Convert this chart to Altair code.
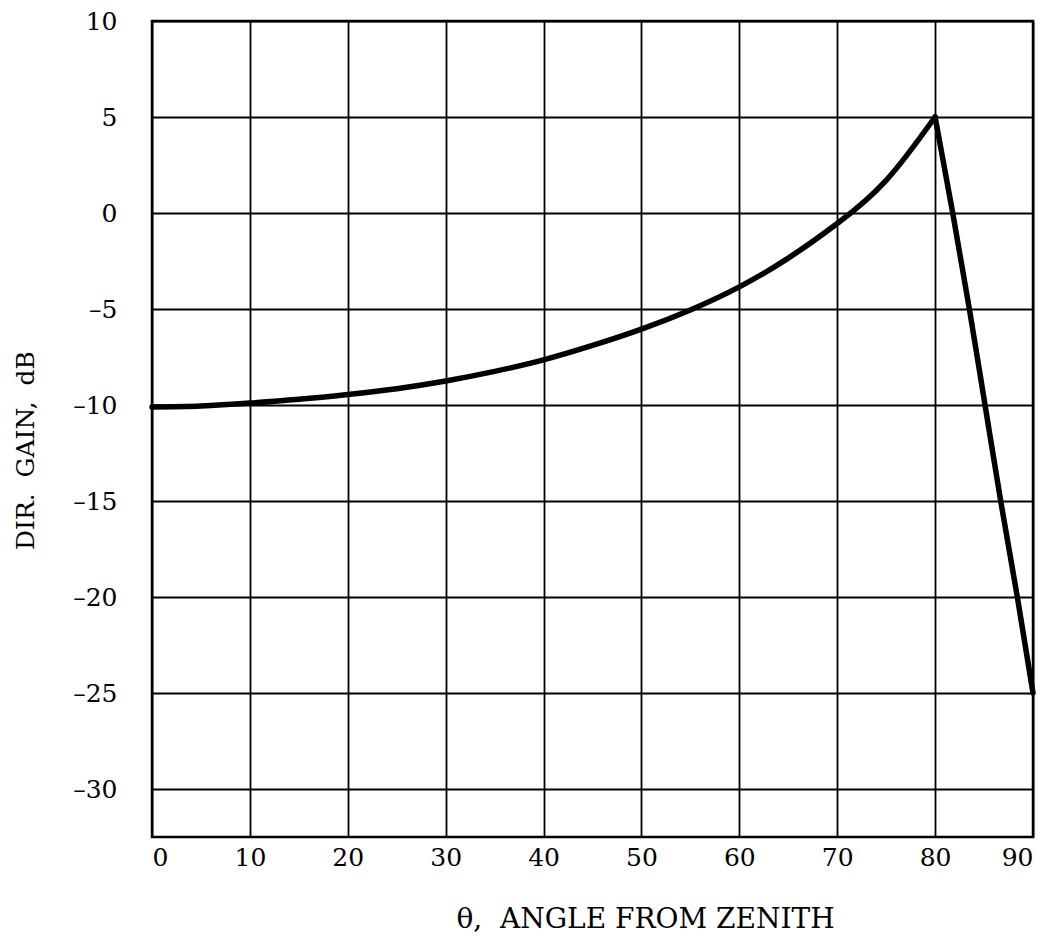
import altair as alt
import pandas as pd

# Rising part of the directive gain curve
curve_theta = [0, 5, 10, 15, 20, 25, 30, 35, 40, 45, 50, 55, 60, 65, 70, 75, 80]
curve_gain = [-10.1, -10.05, -9.9, -9.7, -9.45, -9.15, -8.75, -8.25, -7.65, -6.9,
              -6.05, -5.05, -3.85, -2.35, -0.55, 1.7, 5.0]

# Falling part after the peak
drop_theta = [80, 81.8, 83.5, 85.1, 86.7, 88.4, 90]
drop_gain = [5.0, 0.0, -5.0, -10.0, -15.0, -20.0, -25.0]

x_ticks = [0, 10, 20, 30, 40, 50, 60, 70, 80, 90]
y_ticks = [10, 5, 0, -5, -10, -15, -20, -25, -30]

curve_df = pd.DataFrame({"theta": curve_theta, "gain": curve_gain})
drop_df = pd.DataFrame({"theta": drop_theta, "gain": drop_gain})

FONT = "DejaVu Serif"
NB = "\u00a0"

x_enc = alt.X(
    "theta:Q",
    scale=alt.Scale(domain=[0, 90], nice=False, zero=False),
    axis=alt.Axis(
        values=x_ticks,
        title="θ," + NB + NB + "ANGLE FROM ZENITH",
        titleX=493,
        titleY=82,
        titleAlign="center",
        titleBaseline="middle",
        titleFontSize=28,
        labelPadding=8,
    ),
)
y_enc = alt.Y(
    "gain:Q",
    scale=alt.Scale(domain=[-32.5, 10], nice=False, zero=False),
    axis=alt.Axis(
        values=y_ticks,
        title="DIR." + NB + NB + "GAIN," + NB + NB + "dB",
        titleX=-127,
        titleY=429,
        titleAngle=-90,
        titleAlign="center",
        titleBaseline="middle",
        titleFontSize=25,
        labelPadding=35,
        labelExpr="datum.value < 0 ? '\u2013' + abs(datum.value) : '' + datum.value",
    ),
)

curve = alt.Chart(curve_df).mark_line(
    color="black", strokeWidth=5.5, interpolate="natural", strokeCap="round"
).encode(x=x_enc, y=y_enc)

drop = alt.Chart(drop_df).mark_line(
    color="black", strokeWidth=5.5, strokeCap="round", strokeJoin="round",
    interpolate="monotone"
).encode(x="theta:Q", y="gain:Q")

chart = (
    alt.layer(curve, drop)
    .properties(
        width=881,
        height=816,
        autosize=alt.AutoSizeParams(type="none"),
        padding={"left": 152, "top": 21, "right": 24, "bottom": 104},
        background="white",
    )
    .configure_view(stroke="black", strokeWidth=2.5)
    .configure_axis(
        grid=True,
        gridColor="black",
        gridOpacity=1,
        gridWidth=1.8,
        domain=False,
        ticks=False,
        labelFont=FONT,
        labelFontSize=25,
        labelColor="black",
        titleFont=FONT,
        titleFontWeight="normal",
        titleColor="black",
    )
)

chart.save("out.html", embed_options={"renderer": "svg", "actions": False})
